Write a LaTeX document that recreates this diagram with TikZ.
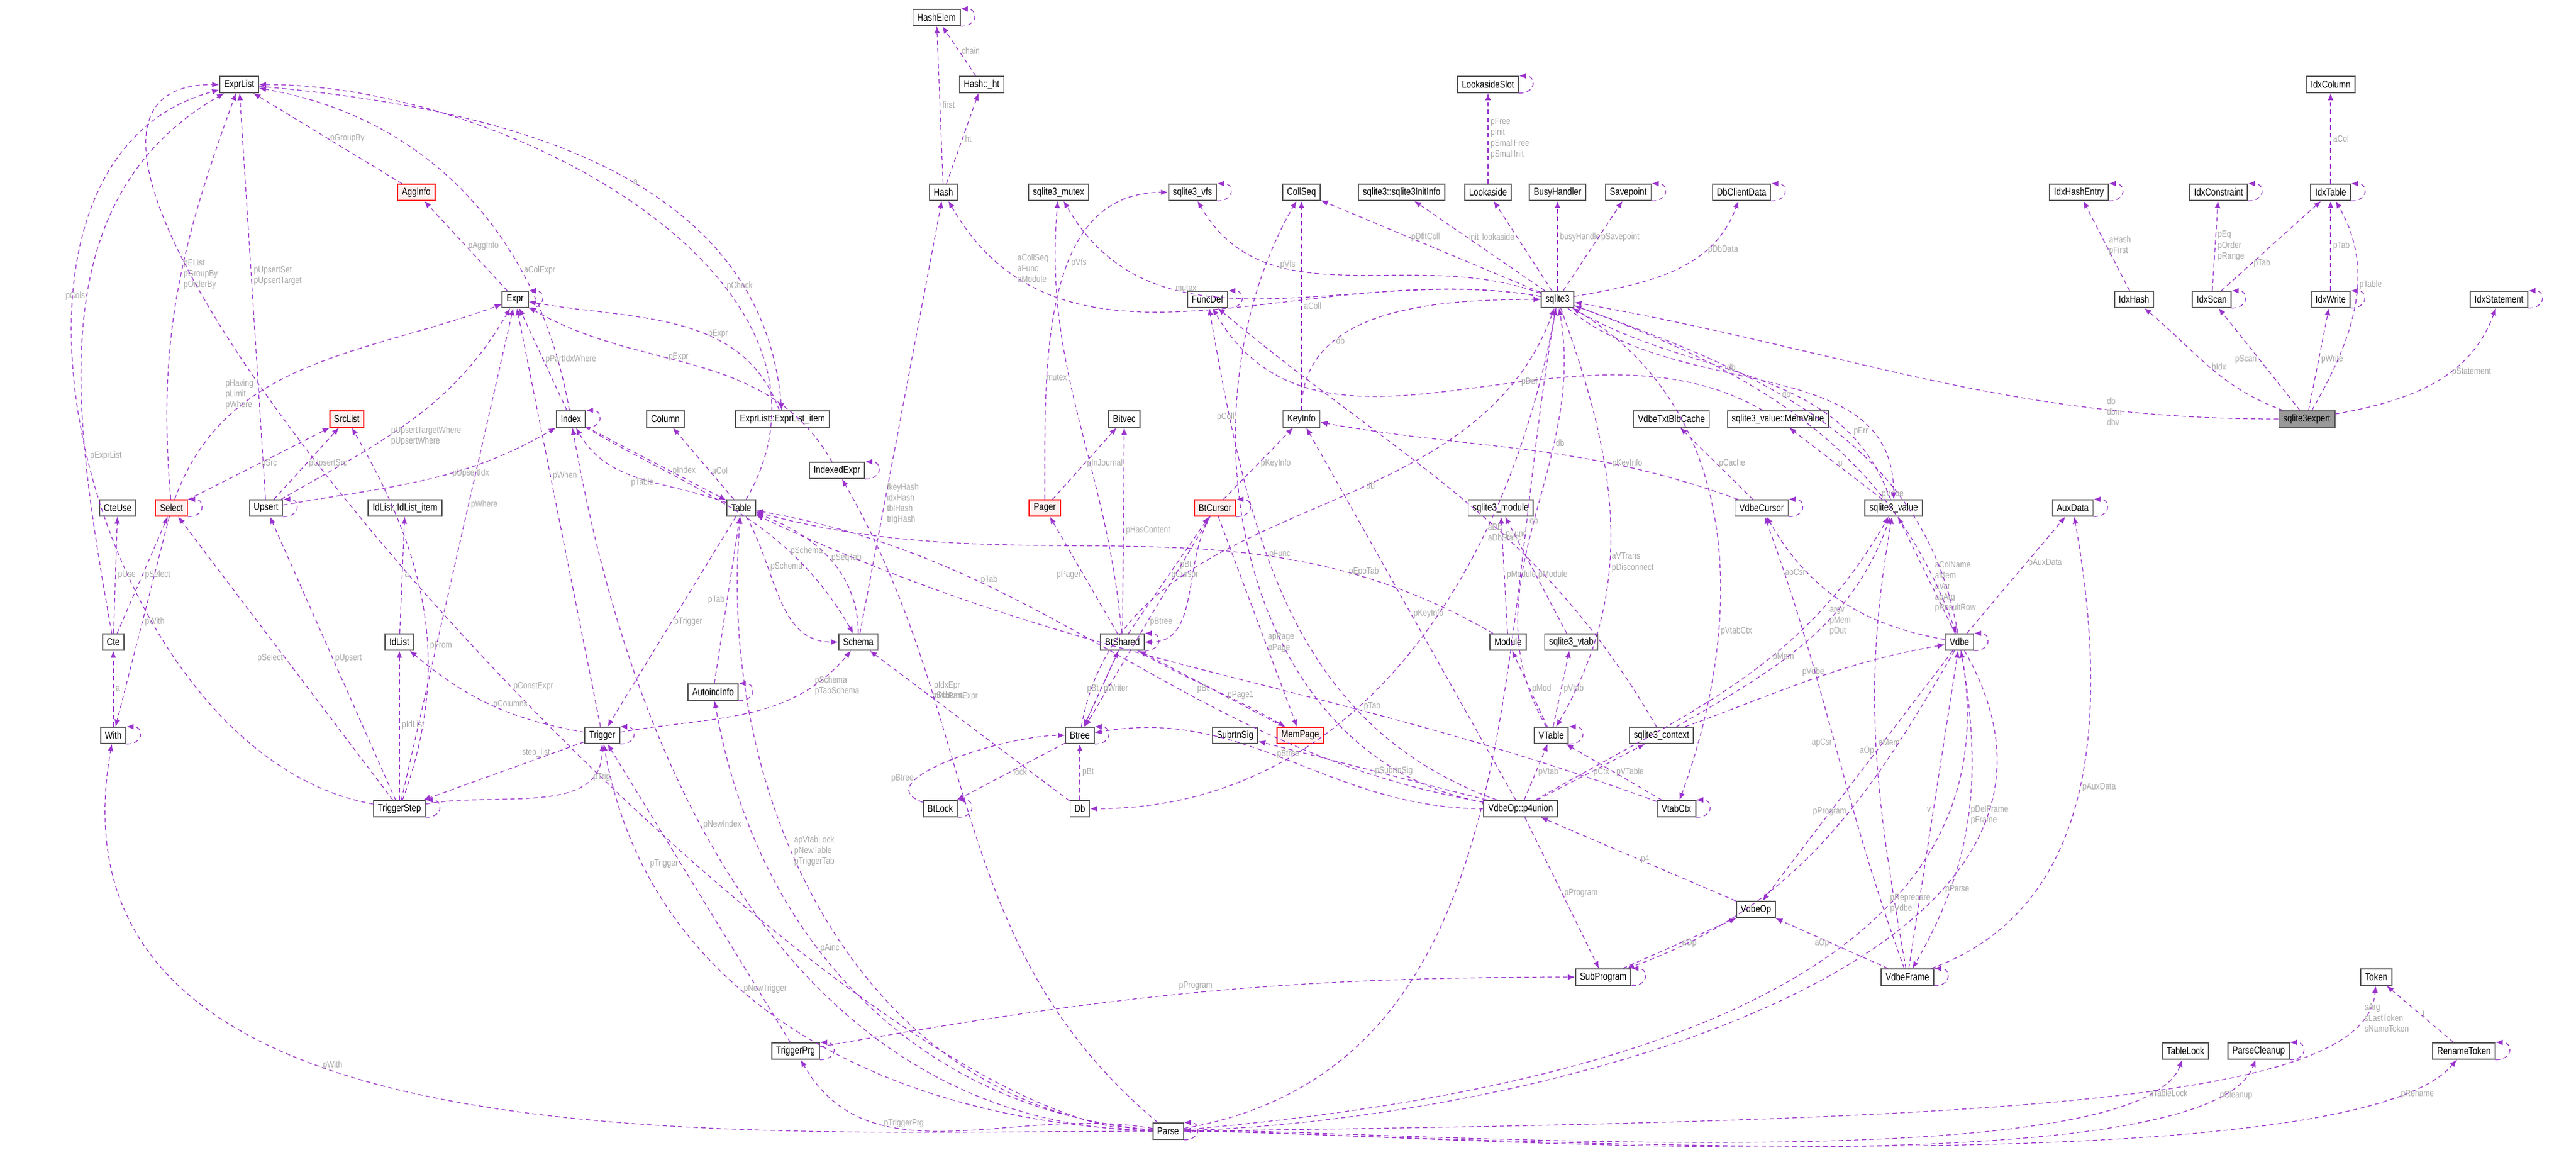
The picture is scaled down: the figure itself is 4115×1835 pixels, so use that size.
\documentclass[tikz,border=0pt]{standalone}
\usepackage{fontspec}
\setmainfont[FakeStretch=0.82]{Liberation Sans}
\usetikzlibrary{arrows.meta}
\definecolor{ec}{HTML}{9A32CD}
\definecolor{lc}{HTML}{A8A8A8}
\tikzset{
 nd/.style={draw=black!65,fill=white,line width=0.5pt,font=\fontsize{4.6pt}{5.4pt}\selectfont,inner xsep=2pt,inner ysep=0pt,minimum height=0.26cm},
 rd/.style={nd,draw=red,fill=red!6},
 gd/.style={nd,fill=black!40},
 e/.style={draw=ec,dashed,dash pattern=on 2pt off 1.5pt,line width=0.35pt,-{Latex[length=3.2pt,width=2.6pt]}},
 lb/.style={text=lc,font=\fontsize{4.2pt}{4.9pt}\selectfont,align=left,inner sep=1pt,fill=none},
 sl/.style={e,to path={(\tikztostart.south east) .. controls +(8pt,0pt) and +(8pt,0pt) .. (\tikztotarget.north east)}}
}
\begin{document}
\begin{tikzpicture}[x=0.01cm,y=-0.01cm]
\useasboundingbox (0,0) rectangle (4115,1835);
% nodes
\node[nd] (ExprList) at (382,135) {ExprList};
\node[nd] (HashElem) at (1496,28) {HashElem};
\node[nd] (Ht) at (1568,135) {Hash::\_ht};
\node[nd] (LookasideSlot) at (2377,135) {LookasideSlot};
\node[nd] (IdxColumn) at (3723,135) {IdxColumn};
\node[rd] (AggInfo) at (665,307) {AggInfo};
\node[nd] (Hash) at (1507,307) {Hash};
\node[nd] (mutex) at (1691,307) {sqlite3\_mutex};
\node[nd] (vfs) at (1905,307) {sqlite3\_vfs};
\node[nd] (CollSeq) at (2079,307) {CollSeq};
\node[nd] (InitInfo) at (2239,307) {sqlite3::sqlite3InitInfo};
\node[nd] (Lookaside) at (2377,307) {Lookaside};
\node[nd] (BusyHandler) at (2488,307) {BusyHandler};
\node[nd] (Savepoint) at (2601,307) {Savepoint};
\node[nd] (DbClientData) at (2782,307) {DbClientData};
\node[nd] (IdxHashEntry) at (3321,307) {IdxHashEntry};
\node[nd] (IdxConstraint) at (3544,307) {IdxConstraint};
\node[nd] (IdxTable) at (3723,307) {IdxTable};
\node[nd] (Expr) at (823,478) {Expr};
\node[nd] (FuncDef) at (1929,478) {FuncDef};
\node[nd] (sqlite3) at (2488,478) {sqlite3};
\node[nd] (IdxHash) at (3409,478) {IdxHash};
\node[nd] (IdxScan) at (3533,478) {IdxScan};
\node[nd] (IdxWrite) at (3723,478) {IdxWrite};
\node[nd] (IdxStatement) at (3992,478) {IdxStatement};
\node[rd] (SrcList) at (554,669) {SrcList};
\node[nd] (Index) at (912,669) {Index};
\node[nd] (Column) at (1063,669) {Column};
\node[nd] (EItem) at (1250,669) {ExprList::ExprList\_item};
\node[nd] (Bitvec) at (1796,669) {Bitvec};
\node[nd] (KeyInfo) at (2079,669) {KeyInfo};
\node[nd] (TxtBlb) at (2670,669) {VdbeTxtBlbCache};
\node[nd] (MemValue) at (2840,669) {sqlite3\_value::MemValue};
\node[gd] (expert) at (3685,669) {sqlite3expert};
\node[nd] (IndexedExpr) at (1337,751) {IndexedExpr};
\node[nd] (CteUse) at (188,811) {CteUse};
\node[rd] (Select) at (274,811) {Select};
\node[nd] (Upsert) at (425,811) {Upsert};
\node[nd] (IdItem) at (647,811) {IdList::IdList\_item};
\node[nd] (Table) at (1184,811) {Table};
\node[rd] (Pager) at (1669,811) {Pager};
\node[rd] (BtCursor) at (1941,811) {BtCursor};
\node[nd] (smodule) at (2397,811) {sqlite3\_module};
\node[nd] (VdbeCursor) at (2814,811) {VdbeCursor};
\node[nd] (svalue) at (3025,811) {sqlite3\_value};
\node[nd] (AuxData) at (3311,811) {AuxData};
\node[nd] (Cte) at (181,1025) {Cte};
\node[nd] (IdList) at (638,1025) {IdList};
\node[nd] (Schema) at (1371,1025) {Schema};
\node[nd] (BtShared) at (1793,1025) {BtShared};
\node[nd] (Module) at (2409,1025) {Module};
\node[nd] (svtab) at (2510,1025) {sqlite3\_vtab};
\node[nd] (Vdbe) at (3130,1025) {Vdbe};
\node[nd] (AutoincInfo) at (1139,1105) {AutoincInfo};
\node[nd] (With) at (181,1174) {With};
\node[nd] (Trigger) at (962,1174) {Trigger};
\node[nd] (Btree) at (1725,1174) {Btree};
\node[nd] (SubrtnSig) at (1973,1174) {SubrtnSig};
\node[rd] (MemPage) at (2077,1174) {MemPage};
\node[nd] (VTable) at (2478,1174) {VTable};
\node[nd] (scontext) at (2654,1174) {sqlite3\_context};
\node[nd] (TriggerStep) at (638,1291) {TriggerStep};
\node[nd] (BtLock) at (1502,1291) {BtLock};
\node[nd] (Db) at (1725,1291) {Db};
\node[nd] (p4) at (2429,1291) {VdbeOp::p4union};
\node[nd] (VtabCtx) at (2678,1291) {VtabCtx};
\node[nd] (VdbeOp) at (2805,1452) {VdbeOp};
\node[nd] (SubProgram) at (2561,1560) {SubProgram};
\node[nd] (VdbeFrame) at (3047,1560) {VdbeFrame};
\node[nd] (Token) at (3796,1560) {Token};
\node[nd] (TriggerPrg) at (1271,1678) {TriggerPrg};
\node[nd] (TableLock) at (3491,1678) {TableLock};
\node[nd] (ParseCleanup) at (3608,1678) {ParseCleanup};
\node[nd] (RenameToken) at (3936,1678) {RenameToken};
\node[nd] (Parse) at (1866,1806) {Parse};
% self loops
\foreach \n/\l in {HashElem/{next\\prev},LookasideSlot/pNext,vfs/pNext,Savepoint/pNext,DbClientData/pNext,IdxHashEntry/{pHashNext\\pNext},IdxConstraint/{pLink\\pNext},IdxTable/pNext,Expr/{pLeft\\pRight},FuncDef/pNext,IdxScan/pNextScan,IdxWrite/pNext,IdxStatement/pNext,Index/pNext,IndexedExpr/pIENext,Select/{pNext\\pPrior},Upsert/pNextUpsert,BtCursor/pNext,VdbeCursor/pAltCursor,AuxData/pNextAux,BtShared/pNext,Vdbe/{pVNext\\ppVPrev},AutoincInfo/pNext,With/pOuter,Trigger/pNext,Btree/{pNext\\pPrev},VTable/pNext,TriggerStep/{pLast\\pNext},BtLock/pNext,VtabCtx/pPrior,SubProgram/pNext,VdbeFrame/pParent,TriggerPrg/pNext,ParseCleanup/pNext,RenameToken/pNext,Parse/{pOuterParse\\pToplevel}}
 {\draw[sl] (\n) to node[lb,right,xshift=4pt]{\l} (\n);}
% edges
\draw[e] (AggInfo) -- node[lb,right]{pGroupBy} (ExprList);
\draw[e] (Expr) -- node[lb,right]{pAggInfo} (AggInfo);
\draw[e] (Index) to[out=100,in=-10] node[lb,right,pos=0.3]{aColExpr} (ExprList);
\draw[e] (ExprList) to[out=-5,in=95] node[lb,right,pos=0.55]{a} (EItem);
\draw[e] (EItem) to[out=110,in=-10] node[lb,right,pos=0.4]{pExpr} (Expr);
\draw[e] (Table) to[out=60,in=0] node[lb,right,pos=0.35]{pCheck} (ExprList);
\draw[e] (Select) to[out=95,in=-110] node[lb,right,pos=0.55]{pEList\\pGroupBy\\pOrderBy} (ExprList);
\draw[e] (Upsert) -- node[lb,right,pos=0.55]{pUpsertSet\\pUpsertTarget} (ExprList);
\draw[e] (Cte) to[out=100,in=-150] node[lb,left,pos=0.55]{pCols} (ExprList);
\draw[e] (TriggerStep) to[out=170,in=-165] node[lb,right,pos=0.5]{pExprList} (ExprList);
\draw[e] (Parse) to[out=180,in=180,looseness=0.6] node[lb,right,pos=0.45]{pConstExpr} (ExprList);
\draw[e] (Select) to[out=70,in=-160] node[lb,left,pos=0.35]{pHaving\\pLimit\\pWhere} (Expr);
\draw[e] (Upsert) to[out=30,in=-120] node[lb,right,pos=0.4]{pUpsertTargetWhere\\pUpsertWhere} (Expr);
\draw[e] (Index) -- node[lb,right]{pPartIdxWhere} (Expr);
\draw[e] (IndexedExpr) to[out=120,in=-30] node[lb,right,pos=0.6]{pExpr} (Expr);
\draw[e] (Select) -- node[lb,right]{pSrc} (SrcList);
\draw[e] (Upsert) -- node[lb,right]{pUpsertSrc} (SrcList);
\draw[e] (TriggerStep) to[out=70,in=-60] node[lb,right,pos=0.4]{pFrom} (SrcList);
\draw[e] (Upsert) to[out=10,in=-150] node[lb,right,pos=0.6]{pUpsertIdx} (Index);
\draw[e] (Table) to[out=160,in=-60] node[lb,left,pos=0.4]{pTable} (Index);
\draw[e] (Index) -- node[lb,right,pos=0.6]{pIndex} (Table);
\draw[e] (Table) -- node[lb,right,pos=0.4]{aCol} (Column);
\draw[e] (Cte) -- node[lb,right]{pUse} (CteUse);
\draw[e] (Cte) -- node[lb,right]{pSelect} (Select);
\draw[e] (Select) -- node[lb,right]{pWith} (With);
\draw[e] (With) -- node[lb,right]{a} (Cte);
\draw[e] (TriggerStep) -- node[lb,left]{pSelect} (Select);
\draw[e] (TriggerStep) -- node[lb,right]{pUpsert} (Upsert);
\draw[e] (IdList) -- node[lb,right]{a} (IdItem);
\draw[e] (TriggerStep) -- node[lb,right]{pIdList} (IdList);
\draw[e] (Trigger) to[out=170,in=-40] node[lb,right]{pColumns} (IdList);
\draw[e] (TriggerStep) -- node[lb,right,pos=0.6]{pWhere} (Expr);
\draw[e] (Trigger) -- node[lb,right,pos=0.6]{pWhen} (Expr);
\draw[e] (Trigger) -- node[lb,above,pos=0.3]{step\_list} (TriggerStep);
\draw[e] (TriggerStep) to[out=10,in=-90] node[lb,right,pos=0.8]{pTrig} (Trigger);
\draw[e] (Table) -- node[lb,right]{pTrigger} (Trigger);
\draw[e] (Trigger) to[out=10,in=-130] node[lb,right,pos=0.8]{pSchema\\pTabSchema} (Schema);
\draw[e] (Table) to[out=-60,in=180] node[lb,right,pos=0.3]{pSchema} (Schema);
\draw[e] (Schema) to[out=90,in=-20] node[lb,right,pos=0.5]{pSeqTab} (Table);
\draw[e] (AutoincInfo) -- node[lb,left]{pTab} (Table);
\draw[e] (Index) to[out=-30,in=120] node[lb,right,pos=0.7]{pSchema} (Schema);
\draw[e] (Schema) -- node[lb,right,pos=0.3]{fkeyHash\\idxHash\\tblHash\\trigHash} (Hash);
\draw[e] (Hash) -- node[lb,right]{first} (HashElem);
\draw[e] (Hash) -- node[lb,right]{ht} (Ht);
\draw[e] (Ht) -- node[lb,right]{chain} (HashElem);
\draw[e] (sqlite3) to[out=170,in=-60] node[lb,pos=0.8,above]{aCollSeq\\aFunc\\aModule} (Hash);
\draw[e] (sqlite3) to[out=170,in=-60] node[lb,right,pos=0.7]{mutex} (mutex);
\draw[e] (sqlite3) to[out=160,in=-60] node[lb,right,pos=0.7]{pVfs} (vfs);
\draw[e] (sqlite3) -- node[lb,right,pos=0.6]{pDfltColl} (CollSeq);
\draw[e] (sqlite3) -- node[lb,right,pos=0.6]{init} (InitInfo);
\draw[e] (sqlite3) -- node[lb,left,pos=0.6]{lookaside} (Lookaside);
\draw[e] (Lookaside) -- node[lb,right]{pFree\\pInit\\pSmallFree\\pSmallInit} (LookasideSlot);
\draw[e] (sqlite3) -- node[lb,right,pos=0.6]{busyHandler} (BusyHandler);
\draw[e] (sqlite3) -- node[lb,right,pos=0.6]{pSavepoint} (Savepoint);
\draw[e] (sqlite3) to[out=10,in=-110] node[lb,right,pos=0.7]{pDbData} (DbClientData);
\draw[e] (KeyInfo) -- node[lb,right,pos=0.5]{aColl} (CollSeq);
\draw[e] (KeyInfo) to[out=90,in=180] node[lb,right,pos=0.3]{db} (sqlite3);
\draw[e] (BtShared) to[out=95,in=-95] node[lb,left,pos=0.6]{mutex} (mutex);
\draw[e] (Pager) to[out=90,in=180] node[lb,right,pos=0.6]{pVfs} (vfs);
\draw[e] (Pager) -- node[lb,right]{pInJournal} (Bitvec);
\draw[e] (BtShared) -- node[lb,right]{pHasContent} (Bitvec);
\draw[e] (BtShared) -- node[lb,left]{pPager} (Pager);
\draw[e] (BtCursor) -- node[lb,right]{pKeyInfo} (KeyInfo);
\draw[e] (BtShared) -- node[lb,right]{pCursor} (BtCursor);
\draw[e] (BtCursor) to[out=-120,in=0] node[lb,left,pos=0.3]{pBt} (BtShared);
\draw[e] (BtCursor) -- node[lb,right,pos=0.5]{pBtree} (Btree);
\draw[e] (BtCursor) -- node[lb,right,pos=0.6]{apPage\\pPage} (MemPage);
\draw[e] (MemPage) -- node[lb,left,pos=0.5]{pBt} (BtShared);
\draw[e] (BtShared) to[out=-30,in=150] node[lb,right,pos=0.6]{pPage1} (MemPage);
\draw[e] (Btree) -- node[lb,left]{pBt} (BtShared);
\draw[e] (BtShared) -- node[lb,right]{pWriter} (Btree);
\draw[e] (Btree) to[out=80,in=-110] node[lb,right,pos=0.6]{db} (sqlite3);
\draw[e] (Btree) -- node[lb,right]{lock} (BtLock);
\draw[e] (BtLock) to[out=160,in=180] node[lb,left,pos=0.3]{pBtree} (Btree);
\draw[e] (Db) -- node[lb,right]{pBt} (Btree);
\draw[e] (Db) -- node[lb,right,pos=0.7]{pSchema} (Schema);
\draw[e] (sqlite3) to[out=-100,in=0] node[lb,right,pos=0.3]{aDb\\aDbStatic} (Db);
\draw[e] (p4) to[out=160,in=-80] node[lb,right,pos=0.6]{pFunc} (FuncDef);
\draw[e] (p4) to[out=170,in=-120] node[lb,left,pos=0.7]{pColl} (CollSeq);
\draw[e] (p4) -- node[lb,right,pos=0.5]{pKeyInfo} (KeyInfo);
\draw[e] (p4) to[out=170,in=-10] node[lb,above,pos=0.7]{pTab} (Table);
\draw[e] (p4) -- node[lb,right,pos=0.5]{pSubrtnSig} (SubrtnSig);
\draw[e] (p4) to[out=30,in=-120] node[lb,right,pos=0.6]{pMem} (svalue);
\draw[e] (p4) -- node[lb,right]{pVtab} (VTable);
\draw[e] (p4) -- node[lb,right]{pCtx} (scontext);
\draw[e] (p4) -- node[lb,right]{pProgram} (SubProgram);
\draw[e] (p4) to[out=180,in=10] node[lb,above,pos=0.5]{pBtree} (Btree);
\draw[e] (Module) -- node[lb,right]{pModule} (smodule);
\draw[e] (svtab) -- node[lb,right]{pModule} (smodule);
\draw[e] (VTable) -- node[lb,right]{pMod} (Module);
\draw[e] (VTable) -- node[lb,right]{pVtab} (svtab);
\draw[e] (VTable) to[out=120,in=-80] node[lb,right,pos=0.7]{db} (sqlite3);
\draw[e] (Module) to[out=150,in=-15] node[lb,right,pos=0.2]{pEpoTab} (Table);
\draw[e] (sqlite3) to[out=-70,in=60] node[lb,right,pos=0.6]{aVTrans\\pDisconnect} (VTable);
\draw[e] (scontext) to[out=120,in=-40] node[lb,right,pos=0.4]{pFunc} (FuncDef);
\draw[e] (scontext) to[out=30,in=-110] node[lb,right,pos=0.6]{argv\\pMem\\pOut} (svalue);
\draw[e] (scontext) to[out=20,in=-170] node[lb,above,pos=0.5]{pVdbe} (Vdbe);
\draw[e] (VtabCtx) -- node[lb,right]{pVTable} (VTable);
\draw[e] (VtabCtx) to[out=160,in=-25] node[lb,above,pos=0.3]{pTab} (Table);
\draw[e] (sqlite3) to[out=-30,in=70] node[lb,right,pos=0.7]{pVtabCtx} (VtabCtx);
\draw[e] (VdbeOp) -- node[lb,right]{p4} (p4);
\draw[e] (SubProgram) -- node[lb,right]{aOp} (VdbeOp);
\draw[e] (VdbeFrame) -- node[lb,left]{aOp} (VdbeOp);
\draw[e] (VdbeFrame) -- node[lb,left]{v} (Vdbe);
\draw[e] (Vdbe) to[out=-80,in=60] node[lb,right,pos=0.5]{pDelFrame\\pFrame} (VdbeFrame);
\draw[e] (VdbeFrame) to[out=100,in=-100] node[lb,right,pos=0.5]{aMem} (svalue);
\draw[e] (VdbeFrame) to[out=110,in=-70] node[lb,left,pos=0.5]{apCsr} (VdbeCursor);
\draw[e] (VdbeFrame) to[out=20,in=-80] node[lb,right,pos=0.5]{pAuxData} (AuxData);
\draw[e] (Vdbe) -- node[lb,left,pos=0.4]{aOp} (VdbeOp);
\draw[e] (Vdbe) to[out=170,in=-60] node[lb,left,pos=0.7]{apCsr} (VdbeCursor);
\draw[e] (Vdbe) -- node[lb,right,pos=0.4]{aColName\\aMem\\aVar\\apArg\\pResultRow} (svalue);
\draw[e] (Vdbe) to[out=100,in=-20] node[lb,right,pos=0.6]{db} (sqlite3);
\draw[e] (Vdbe) to[out=-120,in=20] node[lb,left,pos=0.4]{pProgram} (SubProgram);
\draw[e] (Vdbe) -- node[lb,right,pos=0.6]{pAuxData} (AuxData);
\draw[e] (sqlite3) to[out=-20,in=110] node[lb,right,pos=0.7]{pVdbe} (Vdbe);
\draw[e] (svalue) to[out=110,in=-30] node[lb,right,pos=0.6]{db} (sqlite3);
\draw[e] (sqlite3) to[out=-40,in=90] node[lb,left,pos=0.8]{pErr} (svalue);
\draw[e] (svalue) -- node[lb,right]{u} (MemValue);
\draw[e] (MemValue) to[out=150,in=-60] node[lb,right,pos=0.4]{pDef} (FuncDef);
\draw[e] (VdbeCursor) to[out=160,in=-10] node[lb,right,pos=0.3]{pKeyInfo} (KeyInfo);
\draw[e] (VdbeCursor) -- node[lb,right]{pCache} (TxtBlb);
\draw[e] (expert) to[out=180,in=-10] node[lb,left,pos=0.2]{db\\dbm\\dbv} (sqlite3);
\draw[e] (expert) to[out=160,in=-40] node[lb,right,pos=0.5]{hIdx} (IdxHash);
\draw[e] (expert) -- node[lb,left]{pScan} (IdxScan);
\draw[e] (expert) -- node[lb,right]{pWrite} (IdxWrite);
\draw[e] (expert) to[out=60,in=-60] node[lb,right,pos=0.6]{pTable} (IdxTable);
\draw[e] (expert) to[out=10,in=-110] node[lb,right,pos=0.6]{pStatement} (IdxStatement);
\draw[e] (IdxHash) -- node[lb,right]{aHash\\pFirst} (IdxHashEntry);
\draw[e] (IdxScan) -- node[lb,right]{pEq\\pOrder\\pRange} (IdxConstraint);
\draw[e] (IdxScan) -- node[lb,right,pos=0.3]{pTab} (IdxTable);
\draw[e] (IdxWrite) -- node[lb,right]{pTab} (IdxTable);
\draw[e] (IdxTable) -- node[lb,right]{aCol} (IdxColumn);
\draw[e] (Parse) to[out=10,in=-100] node[lb,right,pos=0.8]{db} (sqlite3);
\draw[e] (Parse) to[out=5,in=-80] node[lb,right,pos=0.7]{pReprepare\\pVdbe} (Vdbe);
\draw[e] (Vdbe) to[out=-60,in=2] node[lb,right,pos=0.3]{pParse} (Parse);
\draw[e] (Parse) to[out=2,in=-110,looseness=0.35] node[lb,right,pos=0.9]{aTableLock} (TableLock);
\draw[e] (Parse) to[out=1,in=-110,looseness=0.35] node[lb,right,pos=0.9]{pCleanup} (ParseCleanup);
\draw[e] (Parse) .. controls (3200,1790) and (3780,1760) .. node[lb,right,pos=0.9]{sArg\\sLastToken\\sNameToken} (Token);
\draw[e] (Parse) to[out=0,in=-130,looseness=0.35] node[lb,right,pos=0.9]{pRename} (RenameToken);
\draw[e] (RenameToken) -- node[lb,right]{t} (Token);
\draw[e] (Parse) to[out=170,in=-60] node[lb,right,pos=0.7]{pTriggerPrg} (TriggerPrg);
\draw[e] (TriggerPrg) to[out=10,in=180] node[lb,above,pos=0.5]{pProgram} (SubProgram);
\draw[e] (TriggerPrg) -- node[lb,left,pos=0.6]{pTrigger} (Trigger);
\draw[e] (Parse) to[out=175,in=-80] node[lb,right,pos=0.6]{pAinc} (AutoincInfo);
\draw[e] (Parse) to[out=178,in=-80] node[lb,right,pos=0.6]{pNewTrigger} (Trigger);
\draw[e] (Parse) to[out=176,in=-95] node[lb,right,pos=0.6]{apVtabLock\\pNewTable\\pTriggerTab} (Table);
\draw[e] (Parse) to[out=179,in=-80] node[lb,right,pos=0.6]{pNewIndex} (Index);
\draw[e] (Parse) to[out=180,in=-100] node[lb,right,pos=0.6]{pWith} (With);
\draw[e] (Parse) to[out=140,in=-60] node[lb,right,pos=0.7]{pIdxEpr\\pIdxPartExpr} (IndexedExpr);
\end{tikzpicture}
\end{document}
